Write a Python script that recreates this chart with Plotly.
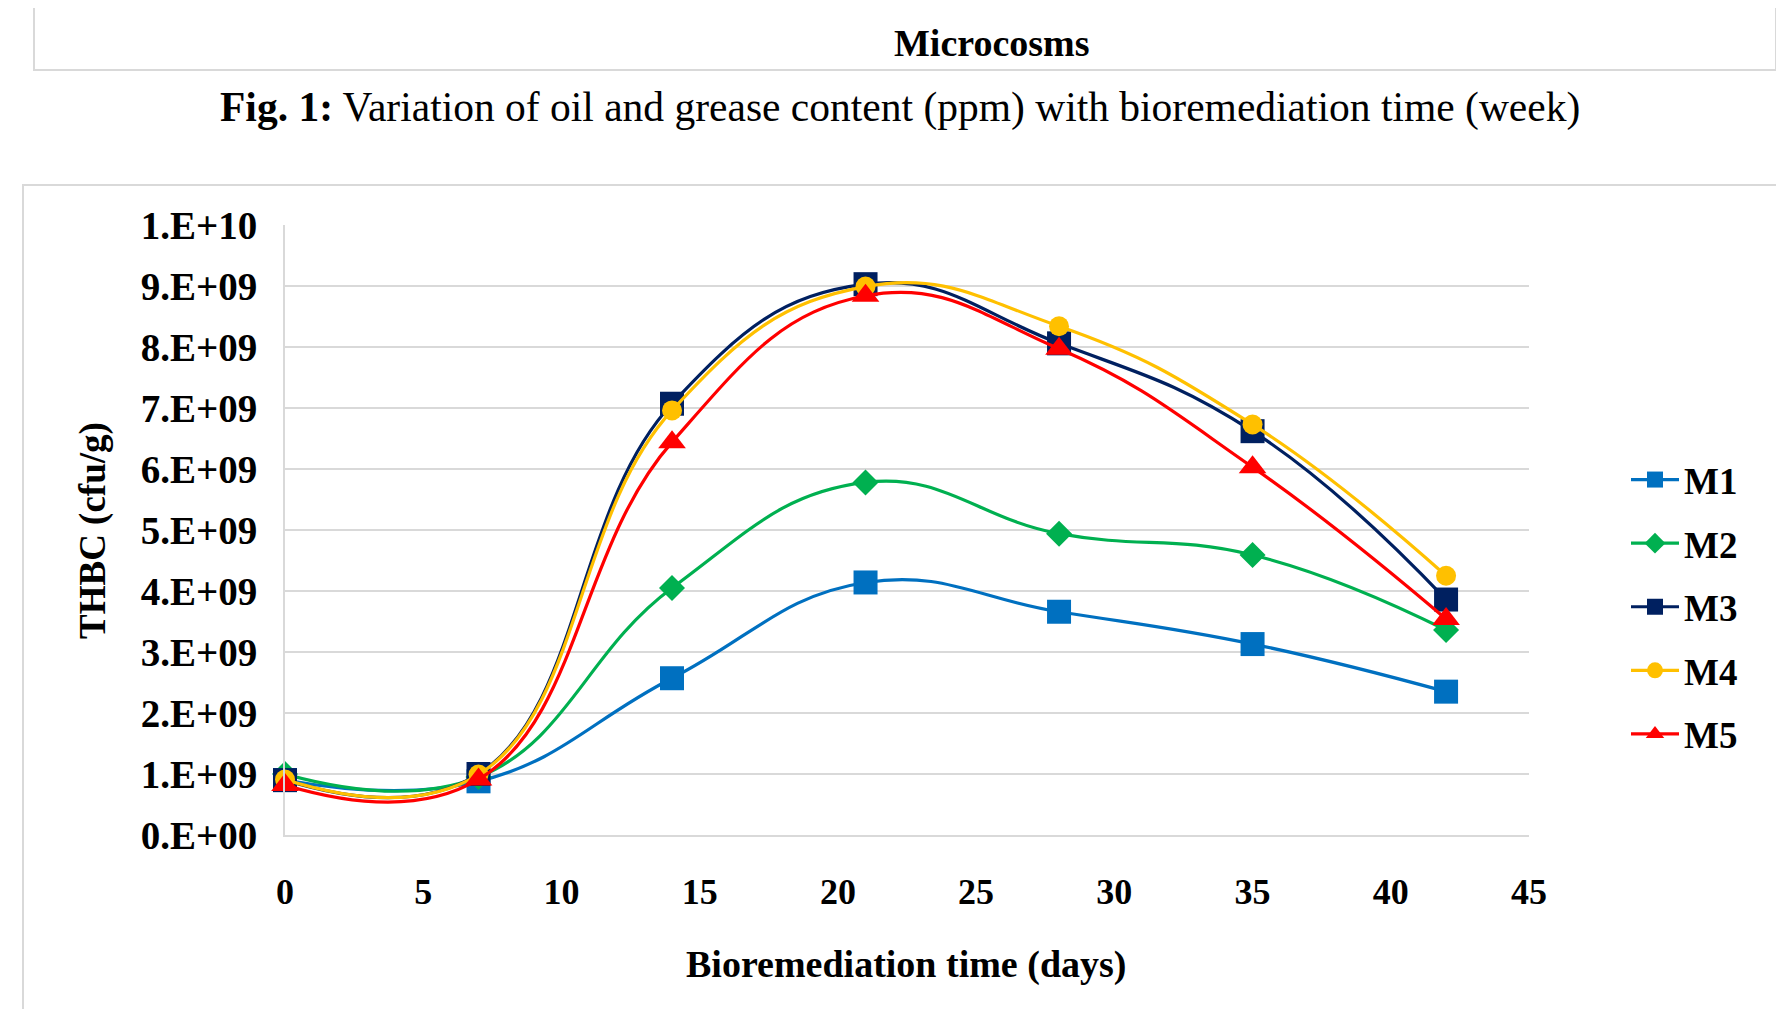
import plotly.graph_objects as go

days = [0, 7, 14, 21, 28, 35, 42]
series_names = ["M1", "M2", "M3", "M4", "M5"]
m1 = [0.90e9, 0.88e9, 2.57e9, 4.14e9, 3.66e9, 3.13e9, 2.35e9]
m2 = [1.00e9, 0.95e9, 4.05e9, 5.78e9, 4.94e9, 4.59e9, 3.36e9]
m3 = [0.90e9, 1.00e9, 7.07e9, 9.03e9, 8.06e9, 6.62e9, 3.86e9]
m4 = [0.91e9, 0.99e9, 6.96e9, 8.99e9, 8.34e9, 6.73e9, 4.25e9]
m5 = [0.82e9, 0.91e9, 6.44e9, 8.84e9, 7.97e9, 6.03e9, 3.54e9]
y_tick_vals = [0, 1e9, 2e9, 3e9, 4e9, 5e9, 6e9, 7e9, 8e9, 9e9, 1e10]
y_tick_text = ["0.E+00", "1.E+09", "2.E+09", "3.E+09", "4.E+09", "5.E+09",
               "6.E+09", "7.E+09", "8.E+09", "9.E+09", "1.E+10"]
x_tick_vals = [0, 5, 10, 15, 20, 25, 30, 35, 40, 45]

colors = ["#0070C0", "#00B050", "#002060", "#FFC000", "#FF0000"]
symbols = ["square", "diamond", "square", "circle", "triangle-up"]
sizes = [24, 20, 24, 20, 24]
values = [m1, m2, m3, m4, m5]

SERIF = "Liberation Serif"

fig = go.Figure()
for i, (name, vals) in enumerate(zip(series_names, values)):
    fig.add_trace(go.Scatter(
        x=days, y=vals, name=name, mode="lines+markers",
        line=dict(color=colors[i], width=3.2, shape="spline", smoothing=1.25),
        marker=dict(symbol=symbols[i], size=sizes[i], color=colors[i]),
        cliponaxis=False, legendgroup=name,
    ))

W, H = 1784, 1009
PL, PR, PT, PB = 277, 1521, 217, 827  # plot area in pixels
L, R, T, B = PL, W - PR, PT, H - PB
pw, ph = PR - PL, PB - PT

def px(x):
    return (x - L) / pw

def py(y):
    return (H - B - y) / ph

fig.update_layout(
    width=W, height=H,
    margin=dict(l=L, r=R, t=T, b=B),
    paper_bgcolor="white", plot_bgcolor="white",
    font=dict(family=SERIF, color="black"),
    showlegend=True,
    legend=dict(
        x=px(1618), y=py(441), xanchor="left", yanchor="top",
        font=dict(family=SERIF, size=37, color="black", weight="bold"),
        tracegroupgap=12.5, itemsizing="trace", itemwidth=48,
        bgcolor="rgba(0,0,0,0)",
    ),
    xaxis=dict(
        range=[0, 45], tickvals=x_tick_vals,
        showgrid=False, zeroline=False,
        showline=True, linecolor="#D9D9D9", linewidth=2,
        ticks="outside", ticklen=24, tickcolor="rgba(0,0,0,0)",
        tickfont=dict(family=SERIF, size=36, color="black", weight="bold"),
    ),
    yaxis=dict(
        range=[0, 1e10], tickvals=y_tick_vals, ticktext=y_tick_text,
        showgrid=True, gridcolor="#D9D9D9", gridwidth=2,
        zeroline=False,
        showline=True, linecolor="#D9D9D9", linewidth=2,
        ticks="outside", ticklen=18, tickcolor="rgba(0,0,0,0)",
        tickfont=dict(family=SERIF, size=39, color="black", weight="bold"),
    ),
    shapes=[
        dict(type="rect", xref="paper", yref="paper",
             x0=px(26), x1=px(1768), y0=py(62), y1=py(-60),
             line=dict(color="#D9D9D9", width=2), fillcolor="rgba(0,0,0,0)", layer="below"),
        dict(type="rect", xref="paper", yref="paper",
             x0=px(15), x1=px(1777), y0=py(1080), y1=py(177),
             line=dict(color="#D9D9D9", width=2), fillcolor="rgba(0,0,0,0)", layer="below"),
    ],
    annotations=[
        dict(text="<b>Microcosms</b>", xref="paper", yref="paper",
             x=px(984), y=py(35), xanchor="center", yanchor="middle",
             showarrow=False, font=dict(family=SERIF, size=38, color="black")),
        dict(text="<b>Fig. 1:</b> Variation of oil and grease content (ppm) with bioremediation time (week)",
             xref="paper", yref="paper",
             x=px(892), y=py(100), xanchor="center", yanchor="middle",
             showarrow=False, font=dict(family=SERIF, size=41.5, color="black")),
        dict(text="<b>Bioremediation time (days)</b>", xref="paper", yref="paper",
             x=px(898), y=py(956), xanchor="center", yanchor="middle",
             showarrow=False, font=dict(family=SERIF, size=38, color="black")),
        dict(text="<b>THBC (cfu/g)</b>", xref="paper", yref="paper",
             x=px(85), y=py(522), xanchor="center", yanchor="middle", textangle=-90,
             showarrow=False, font=dict(family=SERIF, size=37, color="black")),
    ],
)

fig.write_html("out.html")
